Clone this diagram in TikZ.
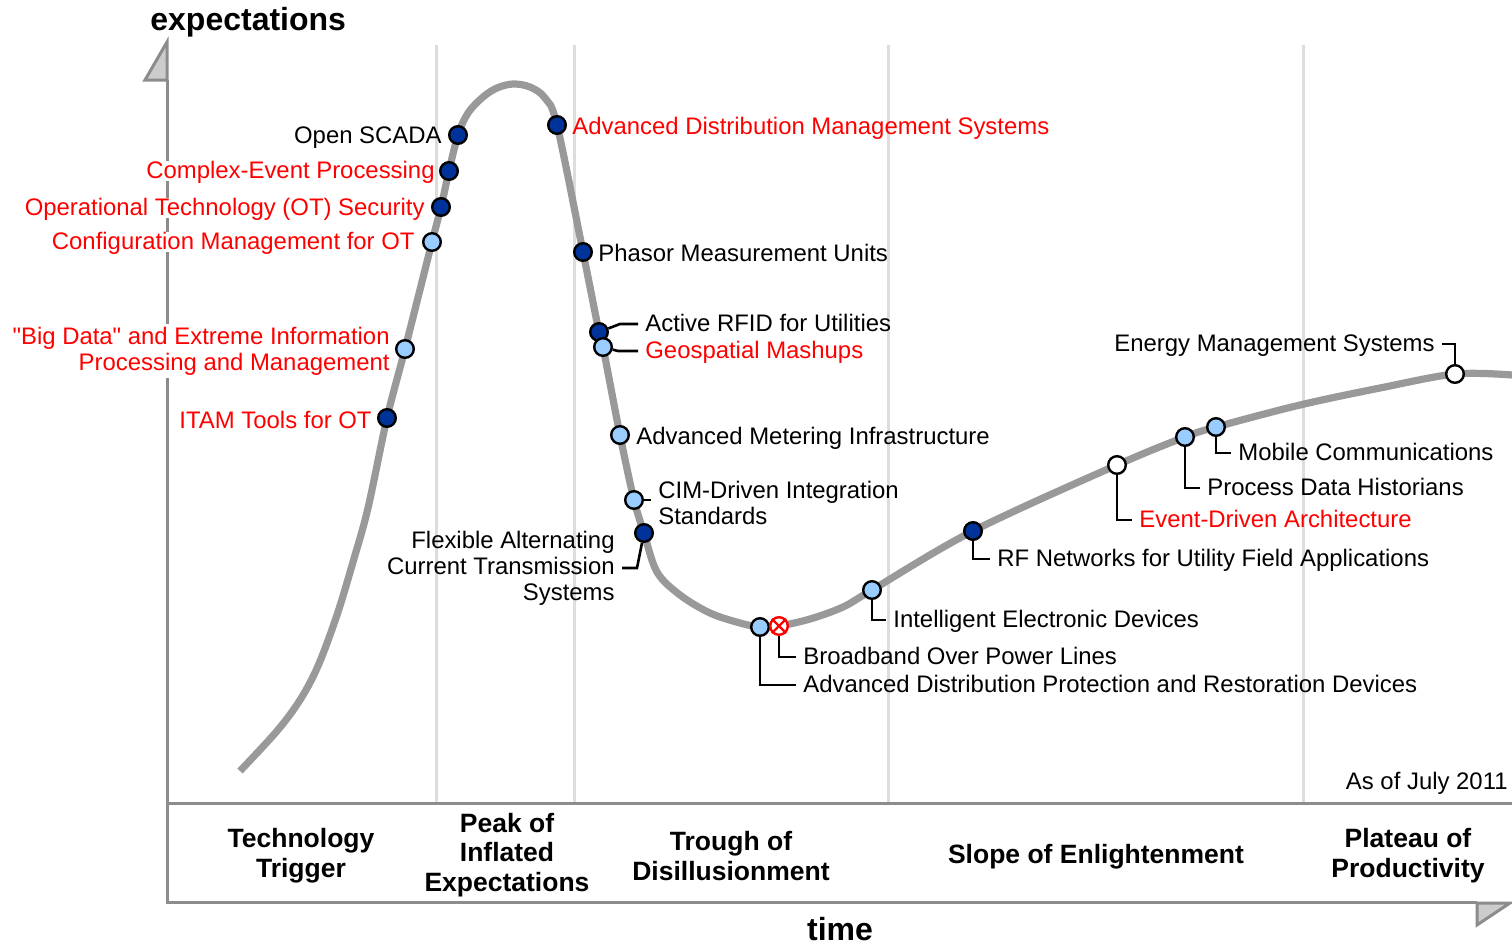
\documentclass[tikz,border=0pt]{standalone}
\usepackage{fontspec}
\setmainfont{Liberation Sans}
\usetikzlibrary{positioning}
\definecolor{hypegray}{HTML}{999999}
\definecolor{sepgray}{HTML}{DDDDDD}
\definecolor{axisgray}{HTML}{8C8C8C}
\definecolor{arrowfill}{HTML}{CCCCCC}
\definecolor{darkdot}{HTML}{003399}
\definecolor{lightdot}{HTML}{99CCFF}
\tikzset{
  dot/.style={circle, draw=black, line width=1.2pt, minimum size=8.8pt, inner sep=0pt},
  hi/.style={dot, fill=darkdot},
  lo/.style={dot, fill=lightdot},
  wh/.style={dot, fill=white},
  lbl/.style={font=\fontsize{11.95}{13}\selectfont, inner sep=0pt, text height=0.72em, text depth=0pt},
  mlbl/.style={font=\fontsize{11.95}{13}\selectfont, inner sep=0pt},
  cover/.style={fill=white, inner ysep=1.5pt},
  lead/.style={line width=1.3pt, shorten >=3.5pt},
  sep/.style={sepgray, line width=1.5pt},
  axis/.style={axisgray, line width=1.5pt},
  curve/.style={hypegray, line width=3.6pt},
  phase/.style={font=\bfseries\fontsize{13.25}{14.9}\selectfont, align=center},
  axtitle/.style={font=\bfseries\fontsize{16}{18}\selectfont, inner sep=0pt}
}
\begin{document}
\begin{tikzpicture}[x=0.5pt,y=-0.5pt]
  \useasboundingbox (0,0) rectangle (1512,944);
  % phase separators
  \foreach \sx in {436,574,888,1303}
    \draw[sep] (\sx,45) -- (\sx,803);
  % axes
  \draw[axis] (167,80) -- (167,902) -- (1477,902);
  \draw[axis] (167,803) -- (1512,803);
  \filldraw[axis,fill=arrowfill] (167,42) -- (167,80) -- (145,80) -- cycle;
  \filldraw[axis,fill=arrowfill] (1477,903) -- (1510,903) -- (1477,925) -- cycle;
  \node[axtitle,anchor=base west] (ytitle) at (150,30) {expectations};
  \node[axtitle,anchor=base] (xtitle) at (840,940) {time};
  \node[lbl,anchor=east] (asof) at (1508,782) {As of July 2011};
  % phases
  \node[phase] (trigger) at (301,856) {Technology\\Trigger};
  \node[phase] (peak) at (507,855) {Peak of\\Inflated\\Expectations};
  \node[phase] (trough) at (731,856) {Trough of\\Disillusionment};
  \node[phase] (slope) at (1096,857) {Slope of Enlightenment};
  \node[phase] (plateau) at (1408,856) {Plateau of\\Productivity};
  % hype curve
  \draw[curve] plot[smooth,tension=0.55] coordinates {
    (240,771) (277,731) (300,700) (318,666) (337,615) (353,562) (368,508)
    (387,418) (405,349) (432,242) (441,207) (449,171) (458,135) (468,113)
    (483,97) (497,88) (513,84) (530,87) (545,98) (557,125) (583,252)
    (599,332) (603,347) (620,435) (634,500) (644,533) (657,572) (680,595)
    (710,613) (740,623) (760,627) (779,626) (810,619) (843,607) (872,590)
    (973,531) (1117,465) (1185,437) (1216,427) (1300,405) (1380,388)
    (1455,374) (1512,375)};
  % technologies on the rise and at the peak
  \node[hi] (scada) at (458,135) {};
  \node[hi] (cep) at (449,171) {};
  \node[hi] (otsec) at (441,207) {};
  \node[lo] (config) at (432,242) {};
  \node[lo] (bigdata) at (405,349) {};
  \node[hi] (itam) at (387,418) {};
  \node[lbl,anchor=east] (scadal) at (442,136) {Open SCADA};
  \node[lbl,cover,anchor=east,text=red] (cepl) at (435,171) {Complex-Event Processing};
  \node[lbl,cover,anchor=east,text=red] (otsecl) at (425,208) {Operational Technology (OT) Security};
  \node[lbl,cover,anchor=east,text=red] (configl) at (415,242) {Configuration Management for OT};
  \node[mlbl,cover,anchor=east,align=right,text=red] (bigdatal) at (390,351) {\textquotedbl Big Data\textquotedbl{} and Extreme Information\\Processing and Management};
  \node[lbl,anchor=east,text=red] (iteml) at (372,421) {ITAM Tools for OT};
  % sliding into the trough
  \node[hi] (adms) at (557,125) {};
  \node[hi] (pmu) at (583,252) {};
  \node[hi] (rfid) at (599,332) {};
  \node[lo] (geo) at (603,347) {};
  \node[lo] (ami) at (620,435) {};
  \node[lo] (cim) at (634,500) {};
  \node[hi] (facts) at (644,533) {};
  \node[lbl,anchor=west,text=red] (admsl) at (572,127) {Advanced Distribution Management Systems};
  \node[lbl,anchor=west] (pmul) at (598,254) {Phasor Measurement Units};
  \node[lbl,anchor=west] (rfidl) at (645,324) {Active RFID for Utilities};
  \node[lbl,anchor=west,text=red] (geol) at (645,351) {Geospatial Mashups};
  \node[lbl,anchor=west] (amil) at (636,437) {Advanced Metering Infrastructure};
  \node[mlbl,anchor=west,align=left] (ciml) at (658,503) {CIM-Driven Integration\\Standards};
  \node[mlbl,anchor=east,align=right] (factsl) at (615,568) {Flexible Alternating\\Current Transmission\\Systems};
  \draw[lead] (rfid) -- ([xshift=-12.5pt]rfidl.west) -- (rfidl.west);
  \draw[lead] (geo) -- ([xshift=-13.5pt]geol.west) -- (geol.west);
  \draw[lead] (cim) -- (cim -| ciml.west);
  \draw[lead] (facts) -- ([xshift=11pt]factsl.east) -- (factsl.east);
  % trough
  \node[lo] (adpr) at (760,627) {};
  \node[circle, draw=red, fill=white, line width=1.2pt, minimum size=8.8pt, inner sep=0pt] (bpl) at (779,626) {};
  \draw[red, line width=1.2pt] (bpl.45) -- (bpl.225) (bpl.135) -- (bpl.315);
  \node[lbl,anchor=west] (bpll) at (803,657) {Broadband Over Power Lines};
  \node[lbl,anchor=west] (adprl) at (803,685) {Advanced Distribution Protection and Restoration Devices};
  \draw[lead] (bpl) |- (bpll.west);
  \draw[lead] (adpr) |- (adprl.west);
  % slope and plateau
  \node[lo] (ied) at (872,590) {};
  \node[hi] (rfnet) at (973,531) {};
  \node[wh] (eda) at (1117,465) {};
  \node[lo] (pdh) at (1185,437) {};
  \node[lo] (mobile) at (1216,427) {};
  \node[wh] (ems) at (1455,374) {};
  \node[lbl,anchor=west] (iedl) at (893,620) {Intelligent Electronic Devices};
  \node[lbl,anchor=west] (rfnetl) at (997,559) {RF Networks for Utility Field Applications};
  \node[lbl,anchor=west,text=red] (edal) at (1139,520) {Event-Driven Architecture};
  \node[lbl,anchor=west] (pdhl) at (1207,488) {Process Data Historians};
  \node[lbl,anchor=west] (mobilel) at (1238,453) {Mobile Communications};
  \node[lbl,anchor=east] (emsl) at (1435,344) {Energy Management Systems};
  \draw[lead] (ied) |- (iedl.west);
  \draw[lead] (rfnet) |- (rfnetl.west);
  \draw[lead] (eda) |- (edal.west);
  \draw[lead] (pdh) |- (pdhl.west);
  \draw[lead] (mobile) |- (mobilel.west);
  \draw[lead] (ems) |- (emsl.east);
\end{tikzpicture}
\end{document}
